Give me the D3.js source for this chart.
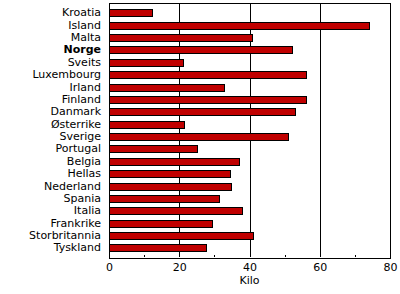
<!DOCTYPE html>
<html><head><meta charset="utf-8">
<script src="https://cdn.jsdelivr.net/npm/d3@7"></script>
<style>body{margin:0;background:#fff}svg{display:block}text{font-family:"DejaVu Sans",sans-serif;font-size:11px;fill:#000}</style>
</head><body>
<script>
const categories = ["Kroatia","Island","Malta","Norge","Sveits","Luxembourg","Irland","Finland","Danmark","Østerrike","Sverige","Portugal","Belgia","Hellas","Nederland","Spania","Italia","Frankrike","Storbritannia","Tyskland"];
const values = [12.3,73.9,40.6,52.0,21.0,56.2,32.7,56.2,52.9,21.3,50.9,25.0,36.9,34.4,34.7,31.2,37.8,29.2,40.9,27.7];
const majorTicks = [0,20,40,60,80];
const minorTicks = [10,30,50,70];
const highlight = "Norge";
const axisTitle = "Kilo";

const W=400,H=294;
const m={left:109,top:2.5,right:390,bottom:257};
const svg=d3.select("body").append("svg").attr("width",W).attr("height",H).attr("shape-rendering","crispEdges");

const x=d3.scaleLinear().domain([0,80]).range([m.left,m.right]);
const y=d3.scaleBand().domain(categories).range([m.top,m.bottom]).paddingInner(0.43).paddingOuter(0.5).align(0.55);

// grid
svg.append("g").selectAll("line").data(majorTicks.filter(d=>d>0&&d<80)).join("line")
  .attr("x1",d=>Math.round(x(d))+0.5).attr("x2",d=>Math.round(x(d))+0.5)
  .attr("y1",m.top).attr("y2",m.bottom).attr("stroke","#000").attr("stroke-width",1);

// bars
svg.append("g").selectAll("rect").data(categories).join("rect")
  .attr("x",Math.round(x(0))+0.5).attr("y",d=>Math.round(y(d))+0.5)
  .attr("width",(d,i)=>Math.round(x(values[i])-x(0))).attr("height",Math.round(y.bandwidth()))
  .attr("fill","#c00000").attr("stroke","#000").attr("stroke-width",1);

// frame
svg.append("rect").attr("x",Math.round(m.left)+0.5).attr("y",Math.round(m.top)+0.5).attr("width",Math.round(m.right-m.left)).attr("height",Math.round(m.bottom-m.top))
  .attr("fill","none").attr("stroke","#000").attr("stroke-width",1);

// minor ticks
svg.append("g").selectAll("line").data(minorTicks).join("line")
  .attr("x1",d=>Math.round(x(d))+0.5).attr("x2",d=>Math.round(x(d))+0.5)
  .attr("y1",m.bottom-2.5).attr("y2",m.bottom).attr("stroke","#000");

// x axis labels
const xa=d3.axisBottom(x).tickValues(majorTicks).tickSize(0).tickPadding(6);
const gx=svg.append("g").attr("transform",`translate(0,${m.bottom})`).call(xa);
gx.select(".domain").remove();
gx.selectAll("text").style("font-family","'DejaVu Sans',sans-serif").style("font-size","11px");

// y labels
const ya=d3.axisLeft(y).tickSize(0).tickPadding(8);
const gy=svg.append("g").attr("transform",`translate(${m.left},0)`).call(ya);
gy.select(".domain").remove();
gy.selectAll("text").style("font-family","'DejaVu Sans',sans-serif").style("font-size","11px")
  .style("font-weight",d=>d===highlight?"bold":"normal");

svg.append("text").attr("x",x(40)).attr("y",284).attr("text-anchor","middle").text(axisTitle);
</script>
</body></html>
